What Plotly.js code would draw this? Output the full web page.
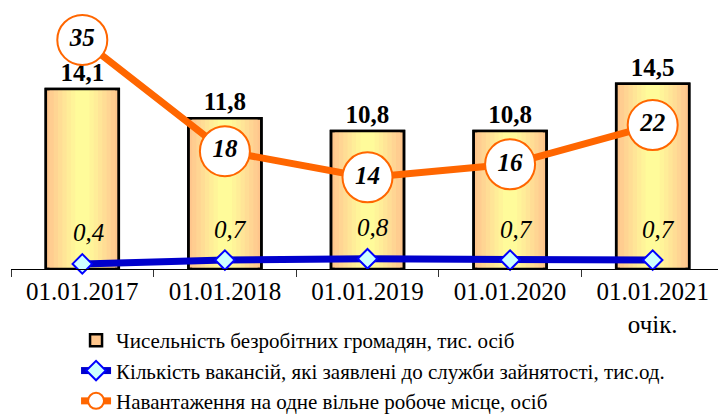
<!DOCTYPE html>
<html>
<head>
<meta charset="utf-8">
<script src="https://cdn.plot.ly/plotly-3.0.1.min.js"></script>
<style>html,body{margin:0;padding:0;background:#fff;}#chart{width:718px;height:419px;}</style>
</head>
<body>
<div id="chart"></div>
<script>
const categories = ["01.01.2017", "01.01.2018", "01.01.2019", "01.01.2020", "01.01.2021<br>очік."];
const unemployed = [14.1, 11.8, 10.8, 10.8, 14.5];
const vacancies = [0.4, 0.7, 0.8, 0.7, 0.7];
const loadPerPlace = [35, 18, 14, 16, 22];
const seriesNames = [
  "Чисельність безробітних громадян, тис. осіб",
  "Кількість вакансій, які заявлені до служби зайнятості, тис.од.",
  "Навантаження на одне вільне робоче місце, осіб"
];

const FONT = "Liberation Serif";
const BARW = 0.512;
const traces = [];

traces.push({
  type: "bar", x: categories, y: unemployed, width: BARW,
  name: seriesNames[0], legendgroup: "a",
  marker: {color: "#FFC68C", line: {color: "#000", width: 2.5}},
  hoverinfo: "skip"
});
const layers = [
  [0.46, "#FFCD90"], [0.40, "#FFD593"], [0.34, "#FFDD95"],
  [0.28, "#FFE597"], [0.22, "#FFED98"], [0.16, "#FFF499"], [0.10, "#FFFB9A"]
];
layers.forEach(([w, c]) => {
  traces.push({
    type: "bar", x: categories, y: unemployed, width: w,
    showlegend: false, marker: {color: c, line: {width: 0}}, hoverinfo: "skip"
  });
});
traces.push({
  type: "bar", x: categories, y: unemployed, width: BARW,
  showlegend: false,
  marker: {color: "rgba(0,0,0,0)", line: {color: "#000", width: 2.5}},
  texttemplate: "%{y:.1f}", textposition: "outside", cliponaxis: false,
  textfont: {family: FONT, size: 25, color: "#000", weight: "bold"},
  hoverinfo: "skip"
});
traces.push({
  type: "scatter", mode: "lines+markers", x: categories, y: vacancies,
  name: seriesNames[1], legendgroup: "b",
  line: {color: "#0000CC", width: 7},
  marker: {symbol: "diamond", size: 15, color: "#CCFFFF", line: {color: "#0000FF", width: 2}},
  cliponaxis: false
});
traces.push({
  type: "scatter", mode: "lines+markers+text", x: categories, y: loadPerPlace,
  yaxis: "y2", name: seriesNames[2], legendgroup: "c",
  line: {color: "#FF6600", width: 7},
  marker: {symbol: "circle", size: 50, color: "#FFFFFF", line: {color: "#FF6600", width: 2}},
  text: loadPerPlace.map(String), textposition: "middle center",
  textfont: {family: FONT, size: 25, color: "#000", weight: "bold", style: "italic"},
  cliponaxis: false
});

const annotations = categories.map((c, i) => ({
  x: c, y: vacancies[i], xref: "x", yref: "y",
  text: vacancies[i].toFixed(1).replace(".", ","),
  showarrow: false, yshift: 31, xshift: 6,
  font: {family: FONT, size: 25, color: "#000", style: "italic"}
}));

const layout = {
  width: 718, height: 419,
  margin: {l: 11, r: 0, t: 0, b: 150, autoexpand: false},
  paper_bgcolor: "#fff", plot_bgcolor: "rgba(0,0,0,0)",
  barmode: "overlay",
  separators: ", ",
  font: {family: FONT, color: "#000"},
  xaxis: {
    type: "category", range: [-0.5, 4.458], automargin: false,
    showline: true, linecolor: "#000", linewidth: 1,
    ticks: "outside", tickson: "boundaries", ticklen: 7, tickcolor: "#333", tickwidth: 1,
    tickfont: {family: FONT, size: 25, color: "#000"},
    showgrid: false, zeroline: false, fixedrange: true
  },
  yaxis: {range: [0, 21.06], visible: false, showgrid: false, zeroline: false},
  yaxis2: {range: [0, 41.1], overlaying: "y", visible: false, showgrid: false, zeroline: false},
  showlegend: true,
  legend: {
    x: 0.092, xanchor: "left", y: -0.19, yanchor: "top",
    orientation: "v", traceorder: "grouped", tracegroupgap: 0,
    font: {family: FONT, size: 21, color: "#000"},
    bgcolor: "rgba(0,0,0,0)", itemwidth: 30
  },
  annotations: annotations
};

Plotly.newPlot("chart", traces, layout, {displayModeBar: false, staticPlot: true});
</script>
</body>
</html>
